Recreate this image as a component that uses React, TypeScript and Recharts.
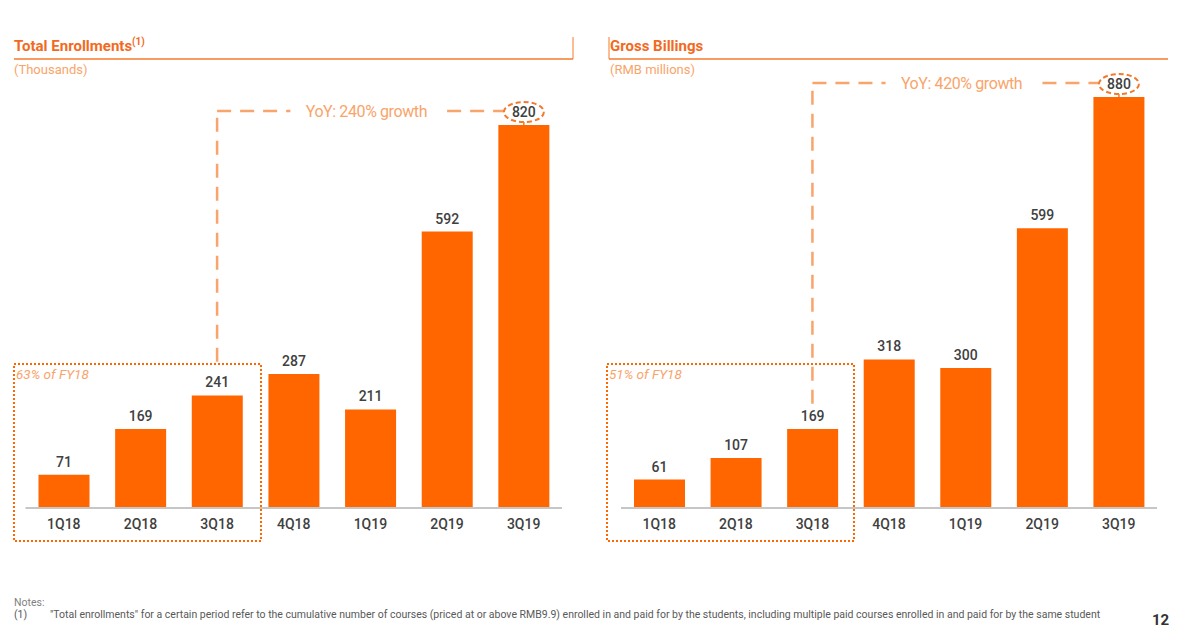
import { Bar, BarChart, LabelList, ReferenceLine, XAxis, YAxis } from "recharts";

const quarters = ["1Q18", "2Q18", "3Q18", "4Q18", "1Q19", "2Q19", "3Q19"];
const enrollments = [71, 169, 241, 287, 211, 592, 820];
const billings = [61, 107, 169, 318, 300, 599, 880];

const enrollGrowth = "YoY: 240% growth";
const billingGrowth = "YoY: 420% growth";
const enrollShare = "63% of FY18";
const billingShare = "51% of FY18";

const BAR = "#ff6600";
const TITLE = "#f26a21";
const SOFT = "#f9a46b";
const TEXT = "#404040";
const FONT = "Roboto, 'Noto Sans', sans-serif";

const ValueLabel = (props: any) => {
	const vb = props.viewBox ?? props;
	const x = vb.x + vb.width / 2;
	const top = vb.y;
	const hot = props.index === quarters.length - 1;
	return (
		<g>
			{hot && (
				<>
					<line x1={x} x2={x} y1={top - 4} y2={top} stroke="#f47a2b" strokeWidth={1.5} />
					<ellipse cx={x} cy={top - 13} rx={20} ry={10} fill="#fff" stroke="#f47a2b" strokeWidth={2} strokeDasharray="5 3" />
				</>
			)}
			<text x={x} y={top - 8} textAnchor="middle" fontSize={14} fontWeight={500} fill={TEXT} fontFamily={FONT}>
				{props.value}
			</text>
		</g>
	);
};

const GrowthLabel = (props: any) => {
	const vb = props.viewBox;
	const cx = vb.x + vb.width / 2 - 4;
	const cy = vb.y;
	return (
		<g>
			<rect x={cx - 76} y={cy - 11} width={152} height={22} fill="#fff" />
			<text x={cx} y={cy} dy="0.35em" textAnchor="middle" fontSize={16} fill={SOFT} fontFamily={FONT} letterSpacing={-0.4}>
				{props.text}
			</text>
		</g>
	);
};

function Panel(props: {
	values: number[];
	left: number;
	width: number;
	margin: { top: number; right: number; left: number; bottom: number };
	growth: string;
	lineFrom: number;
	lineLevel: number;
}) {
	const data = quarters.map((q, i) => ({ q, v: props.values[i] }));
	return (
		<div style={{ position: "absolute", left: props.left, top: 0 }}>
			<BarChart width={props.width} height={560} data={data} margin={props.margin}>
				<XAxis
					dataKey="q"
					axisLine={{ stroke: "#c6c6c6", strokeWidth: 2 }}
					tickLine={false}
					tickMargin={5}
					tick={{ fontSize: 14, fill: TEXT, fontWeight: 500, fontFamily: FONT }}
				/>
				<YAxis hide domain={[0, 1000]} />
				<ReferenceLine
					segment={[
						{ x: "3Q18", y: props.lineFrom },
						{ x: "3Q18", y: props.lineLevel },
					]}
					stroke={SOFT}
					strokeWidth={2.5}
					strokeDasharray="14 9"
				/>
				<ReferenceLine
					segment={[
						{ x: "3Q18", y: props.lineLevel },
						{ x: "3Q19", y: props.lineLevel },
					]}
					stroke={SOFT}
					strokeWidth={2.5}
					strokeDasharray="14 9"
					label={(p: any) => <GrowthLabel {...p} text={props.growth} />}
				/>
				<Bar dataKey="v" fill={BAR} barSize={51} isAnimationActive={false}>
					<LabelList dataKey="v" content={(p: any) => <ValueLabel {...p} />} />
				</Bar>
			</BarChart>
		</div>
	);
}

export default function App() {
	return (
		<div style={{ position: "absolute", left: 0, top: 0, width: 1177, height: 636, background: "#fff", fontFamily: FONT, overflow: "hidden" }}>
			<svg width={1177} height={636} style={{ position: "absolute", left: 0, top: 0 }}>
				<line x1={14} x2={573} y1={59} y2={59} stroke="#f47a2b" strokeWidth={1.5} />
				<line x1={573} x2={573} y1={37} y2={59} stroke="#f47a2b" strokeWidth={1} />
				<line x1={609} x2={1168} y1={59} y2={59} stroke="#f47a2b" strokeWidth={1.5} />
				<line x1={609} x2={609} y1={37} y2={59} stroke="#f47a2b" strokeWidth={1} />
				<rect x={14} y={364} width={247} height={177} fill="none" stroke={BAR} strokeWidth={2} strokeDasharray="2 2" />
				<rect x={607} y={364} width={247} height={177} fill="none" stroke={BAR} strokeWidth={2} strokeDasharray="2 2" />
			</svg>
			<Panel values={enrollments} left={0} width={580} margin={{ top: 41, right: 18, left: 25.5, bottom: 22 }} growth={enrollGrowth} lineFrom={313} lineLevel={850} />
			<Panel values={billings} left={600} width={577} margin={{ top: 41, right: 20, left: 21, bottom: 22 }} growth={billingGrowth} lineFrom={223} lineLevel={910} />
			<div style={{ position: "absolute", left: 14, top: 37, fontSize: 15, fontWeight: 700, color: TITLE, lineHeight: "18px" }}>
				Total Enrollments<sup style={{ fontSize: 10, verticalAlign: "6px", lineHeight: 0 }}>(1)</sup>
			</div>
			<div style={{ position: "absolute", left: 610, top: 37, fontSize: 15, fontWeight: 700, color: TITLE, lineHeight: "18px" }}>Gross Billings</div>
			<div style={{ position: "absolute", left: 14, top: 62, fontSize: 13, color: SOFT, lineHeight: "16px" }}>(Thousands)</div>
			<div style={{ position: "absolute", left: 610, top: 62, fontSize: 13, color: SOFT, lineHeight: "16px" }}>(RMB millions)</div>
			<div style={{ position: "absolute", left: 16, top: 366, fontSize: 13.5, fontStyle: "italic", color: SOFT, lineHeight: "16px" }}>{enrollShare}</div>
			<div style={{ position: "absolute", left: 609, top: 366, fontSize: 13.5, fontStyle: "italic", color: SOFT, lineHeight: "16px" }}>{billingShare}</div>
			<div style={{ position: "absolute", left: 14, top: 597, fontSize: 10.5, color: "#7f7f7f", lineHeight: "12px" }}>Notes:</div>
			<div style={{ position: "absolute", left: 14, top: 609, fontSize: 10.5, color: "#595959", lineHeight: "12px", whiteSpace: "nowrap" }}>
				<span style={{ display: "inline-block", width: 36 }}>(1)</span>
				"Total enrollments" for a certain period refer to the cumulative number of courses (priced at or above RMB9.9) enrolled in and paid for by the students, including multiple paid courses enrolled in and paid for by the same student
			</div>
			<div style={{ position: "absolute", left: 1152, top: 611, fontSize: 15, fontWeight: 700, color: "#333", lineHeight: "18px" }}>12</div>
		</div>
	);
}
